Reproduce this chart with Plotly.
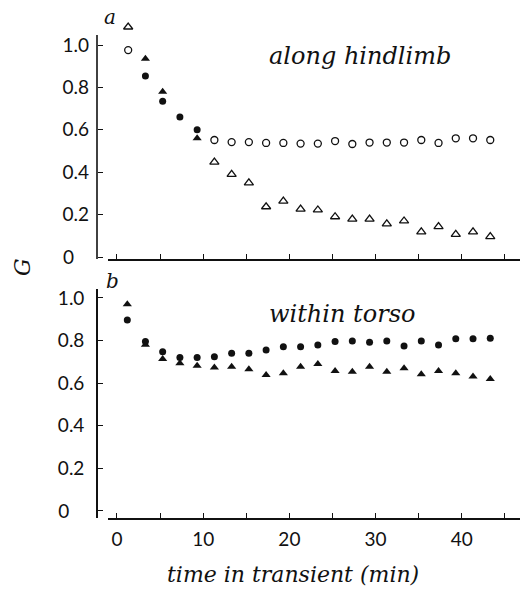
import plotly.graph_objects as go

# ---- data (time in minutes, G values) ----
# panel a: along hindlimb
a_open_circle_t = [1.3, 11.3, 13.3, 15.3, 17.3, 19.3, 21.3, 23.3, 25.3, 27.3, 29.3, 31.3, 33.3, 35.3, 37.3, 39.3, 41.3, 43.3]
a_open_circle_g = [0.976, 0.552, 0.542, 0.542, 0.538, 0.538, 0.535, 0.535, 0.547, 0.533, 0.540, 0.540, 0.540, 0.552, 0.538, 0.560, 0.560, 0.552]
a_open_tri_t = [1.3, 11.3, 13.3, 15.3, 17.3, 19.3, 21.3, 23.3, 25.3, 27.3, 29.3, 31.3, 33.3, 35.3, 37.3, 39.3, 41.3, 43.3]
a_open_tri_g = [1.085, 0.448, 0.390, 0.350, 0.237, 0.264, 0.226, 0.222, 0.190, 0.179, 0.179, 0.156, 0.170, 0.119, 0.143, 0.107, 0.119, 0.096]
a_fill_circle_t = [3.3, 5.3, 7.3, 9.3]
a_fill_circle_g = [0.854, 0.735, 0.660, 0.600]
a_fill_tri_t = [3.3, 5.3, 9.3]
a_fill_tri_g = [0.935, 0.780, 0.560]

# panel b: within torso
b_t = [1.2, 3.3, 5.3, 7.3, 9.3, 11.3, 13.3, 15.3, 17.3, 19.3, 21.3, 23.3, 25.3, 27.3, 29.3, 31.3, 33.3, 35.3, 37.3, 39.3, 41.3, 43.3]
b_circle_g = [0.897, 0.795, 0.748, 0.721, 0.721, 0.724, 0.740, 0.740, 0.756, 0.771, 0.771, 0.779, 0.795, 0.798, 0.792, 0.798, 0.775, 0.798, 0.779, 0.808, 0.808, 0.811]
b_tri_g = [0.970, 0.780, 0.713, 0.693, 0.682, 0.673, 0.677, 0.665, 0.638, 0.646, 0.677, 0.690, 0.657, 0.654, 0.677, 0.654, 0.670, 0.642, 0.657, 0.646, 0.631, 0.620]

y_ticks = [0, 0.2, 0.4, 0.6, 0.8, 1.0]
y_ticktext = ["0\u2007\u2008", "0.2", "0.4", "0.6", "0.8", "1.0"]
x_ticks = [0, 10, 20, 30, 40]
x_ticktext = ["0", "10", "20", "30", "40"]

INK = "#111111"
TICKFONT = dict(family="Lato, Open Sans, sans-serif", size=19, color=INK)
HAND = "DejaVu Serif, Liberation Serif, serif"

# body margin is removed in the page (post_script), so figure fills the window
W, H = 525, 589
def px(x):
    return x / W
def py(y):
    return (H - y) / H

fig = go.Figure()

def add(x, y, symbol, size, xa, ya, filled):
    fig.add_trace(go.Scatter(
        x=x, y=y, mode="markers", xaxis=xa, yaxis=ya, cliponaxis=False,
        showlegend=False, hoverinfo="x+y",
        marker=dict(symbol=symbol, size=size, color=INK,
                    line=dict(color=INK, width=0 if filled else 1.3)),
    ))

add(a_open_circle_t, a_open_circle_g, "circle-open", 7, "x", "y", False)
add(a_open_tri_t, a_open_tri_g, "triangle-up-open", 8, "x", "y", False)
add(a_fill_circle_t, a_fill_circle_g, "circle", 7, "x", "y", True)
add(a_fill_tri_t, a_fill_tri_g, "triangle-up", 8, "x", "y", True)
add(b_t, b_circle_g, "circle", 7, "x2", "y2", True)
add(b_t, b_tri_g, "triangle-up", 8, "x2", "y2", True)

xdom = [px(108), px(520)]
ypos = px(97)
common_x = dict(range=[-1.04, 46.75], showline=True, linecolor=INK, linewidth=1.6,
                ticks="inside", ticklen=5, tickwidth=1.3, tickcolor=INK,
                tickvals=x_ticks, showgrid=False, zeroline=False,
                minor=dict(tickvals=[5, 15, 25, 35, 45], ticks="inside", ticklen=5,
                           tickwidth=1.3, tickcolor=INK, showgrid=False),
                tickfont=TICKFONT, automargin=False, ticklabelstandoff=3)
common_y = dict(showline=True, linecolor=INK, linewidth=1.6, ticks="inside",
                ticklen=5, tickwidth=1.3, tickcolor=INK, tickvals=y_ticks,
                ticktext=y_ticktext, showgrid=False, zeroline=False,
                tickfont=TICKFONT, anchor="free", position=ypos, automargin=False,
                ticklabelstandoff=8)

# top panel: range extended upward so the first open triangle (above the axis line) is drawn;
# the visible axis line is drawn as a shape only up to 1.047
top_lo, top_line_hi, top_hi = -0.0094, 1.047, 1.12
top_px_per_unit = 212.0
fig.update_layout(
    width=W, height=H,
    margin=dict(l=0, r=0, t=0, b=0),
    paper_bgcolor="white", plot_bgcolor="white",
    xaxis=dict(common_x, domain=xdom, anchor="y", showticklabels=False),
    yaxis=dict(common_y, domain=[py(259), py(259 - top_px_per_unit * (top_hi - top_lo))],
               range=[top_lo, top_hi], showline=False),
    xaxis2=dict(common_x, domain=xdom, anchor="y2", ticktext=x_ticktext, showticklabels=True),
    yaxis2=dict(common_y, domain=[py(518), py(289)], range=[-0.033, 1.042]),
)
fig.add_shape(type="line", xref="paper", yref="y", x0=ypos, x1=ypos,
              y0=top_lo, y1=top_line_hi, line=dict(color=INK, width=1.6))

def ann(text, x, y, size, angle=0):
    fig.add_annotation(text=text, x=px(x), y=py(y), xref="paper", yref="paper",
                       xanchor="center", yanchor="middle", showarrow=False, textangle=angle,
                       font=dict(family=HAND, size=size, color=INK))

ann("<i>along hindlimb</i>", 360, 56, 24)
ann("<i>within torso</i>", 342, 314, 24)
ann("<i>time in transient (min)</i>", 293, 574, 22)
ann("<i>a</i>", 110, 17, 20)
ann("<i>b</i>", 112, 281, 20)
ann("<i>G</i>", 23, 267, 22, angle=-90)

fig.write_html("out.html", config={"displayModeBar": False},
               post_script="document.body.style.margin='0px';")
